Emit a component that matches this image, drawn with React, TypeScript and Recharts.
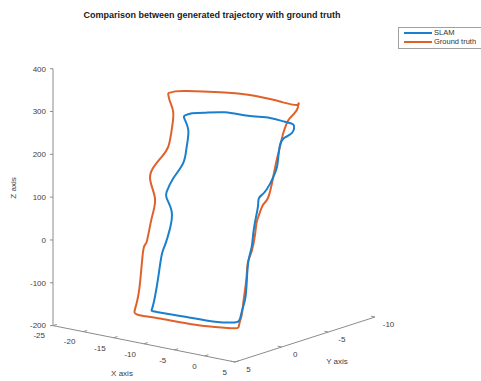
import React from 'react';
import { ScatterChart, Scatter, XAxis, YAxis, ReferenceLine } from 'recharts';

// trajectories as seen on screen: horizontal screen position vs Z value
const truthH = [168, 175, 187, 220, 248, 270, 282, 296.7, 298.5, 297, 290, 286.5, 283.3, 280, 276.7, 275, 272, 268, 263, 260, 256.7, 255, 251.7, 248, 246.7, 245, 243, 241.7, 239, 235, 215, 190, 158, 138.3, 134.5, 136.7, 140, 143.3, 146.7, 151.7, 155, 150, 155, 161.7, 168.3, 171.7, 173.3, 170, 168];
const truthZ = [343, 347, 348, 345, 339, 329, 322, 315, 319, 304, 285, 271, 250, 218, 187, 168, 133, 98, 82, 65, 42, 12, -26, -51, -82, -117, -152, -175, -199, -206, -203, -196, -183, -175, -167, -147, -101, -23, -4, 51, 97, 144, 175, 194, 218, 257, 297, 323, 343];

const slamH = [185, 192, 204, 225, 248, 270, 285, 293.5, 292, 284, 280, 278.3, 276.7, 273.3, 270, 264, 259, 258, 256, 253.3, 251.7, 248.3, 246.7, 245, 241.7, 239, 231.7, 215, 186.7, 156.7, 152, 155, 158.3, 161.7, 165, 170, 171.7, 166.7, 166.7, 173.3, 183.3, 186.7, 188.3, 184.3, 185];
const slamZ = [291, 296, 297, 298, 290, 285, 276, 269, 250, 238, 222, 194, 168, 147, 131, 110, 98, 79, 54, 16, -16, -51, -100, -140, -168, -189, -193, -191, -180, -168, -161, -132, -86, -35, -12, 27, 66, 97, 113, 144, 180, 218, 257, 284, 291];

const zTicks = [-200, -100, 0, 100, 200, 300, 400];
const xTickLabels = ['-25', '-20', '-15', '-10', '-5', '0', '5'];
const yTickLabels = ['5', '0', '-5', '-10'];

// where the 3D box edges land on screen (h, z)
const corner0 = { h: 53, z: -200 };
const corner1 = { h: 235, z: -285 };
const corner2 = { h: 375, z: -180 };

const axisColor = '#8c8c8c';
const textColor = '#404040';
const blue = '#1a7fcc';
const orange = '#e0622a';

const toPoints = (hs: number[], zs: number[]) => hs.map((h, i) => ({ h, z: zs[i] }));

const along = (from: { h: number; z: number }, to: { h: number; z: number }, labels: string[]) =>
  labels.map((label, i) => {
    const t = i / (labels.length - 1);
    return { h: from.h + (to.h - from.h) * t, z: from.z + (to.z - from.z) * t, label };
  });

const truth = toPoints(truthH, truthZ);
const slam = toPoints(slamH, slamZ);
const xTicks = along(corner0, corner1, xTickLabels);
const yTicks = along(corner1, corner2, yTickLabels);
const axisNames = [
  { h: 122, z: -310, label: 'X axis' },
  { h: 337, z: -282, label: 'Y axis' },
];

const NoDot = () => <g />;

const XTick = (props: any) => {
  const { cx, cy, payload } = props;
  return (
    <g>
      <line x1={cx} y1={cy} x2={cx + 3.8} y2={cy - 1.2} stroke={axisColor} />
      <text x={cx - 8} y={cy + 10} dy="0.35em" textAnchor="end" fontSize={8} fill={textColor}>
        {payload.label}
      </text>
    </g>
  );
};

const YTick = (props: any) => {
  const { cx, cy, payload } = props;
  return (
    <g>
      <line x1={cx} y1={cy} x2={cx - 3.9} y2={cy - 0.8} stroke={axisColor} />
      <text x={cx + 13.5} y={cy + 7} dy="0.35em" textAnchor="middle" fontSize={8} fill={textColor}>
        {payload.label}
      </text>
    </g>
  );
};

const AxisName = (props: any) => {
  const { cx, cy, payload } = props;
  return (
    <text x={cx} y={cy} dy="0.35em" textAnchor="middle" fontSize={8} fill={textColor}>
      {payload.label}
    </text>
  );
};

const App = () => {
  return (
    <div style={{ position: 'absolute', left: 0, top: 0, width: 481, height: 381, background: '#fff', fontFamily: '"Liberation Sans", Arial, sans-serif' }}>
      <div style={{ position: 'absolute', left: 212, top: 15, transform: 'translate(-50%, -50%)', fontSize: 9, fontWeight: 'bold', color: '#1a1a1a', whiteSpace: 'nowrap' }}>
        Comparison between generated trajectory with ground truth
      </div>

      <div style={{ position: 'absolute', left: 13, top: 188, transform: 'translate(-50%, -50%) rotate(-90deg)', fontSize: 8, color: textColor, whiteSpace: 'nowrap' }}>
        Z axis
      </div>

      <div style={{ position: 'absolute', left: 398, top: 27, width: 100, height: 22, border: '1px solid #a0a0a0', boxSizing: 'border-box', background: '#fff', fontSize: 7.5, color: '#333' }}>
        <div style={{ position: 'absolute', left: 5, top: 4, width: 28, height: 2, background: blue }} />
        <div style={{ position: 'absolute', left: 35, top: 0, lineHeight: '10px' }}>SLAM</div>
        <div style={{ position: 'absolute', left: 5, top: 13, width: 28, height: 2, background: orange }} />
        <div style={{ position: 'absolute', left: 35, top: 9, lineHeight: '10px' }}>Ground truth</div>
      </div>

      <ScatterChart width={481} height={381} margin={{ top: 43, right: 0, bottom: 4, left: 0 }} style={{ position: 'absolute', left: 0, top: 0 }}>
        <XAxis type="number" dataKey="h" domain={[53, 481]} hide />
        <YAxis
          type="number"
          dataKey="z"
          domain={[-320, 460]}
          ticks={zTicks}
          interval={0}
          axisLine={false}
          tickSize={3}
          tickMargin={4}
          width={53}
          tick={{ fontSize: 8, fill: textColor }}
          tickLine={{ stroke: axisColor }}
        />
        <ReferenceLine segment={[{ x: corner0.h, y: -200 }, { x: corner0.h, y: 400 }]} stroke={axisColor} ifOverflow="visible" />
        <ReferenceLine segment={[{ x: corner0.h, y: corner0.z }, { x: corner1.h, y: corner1.z }]} stroke={axisColor} ifOverflow="visible" />
        <ReferenceLine segment={[{ x: corner1.h, y: corner1.z }, { x: corner2.h, y: corner2.z }]} stroke={axisColor} ifOverflow="visible" />

        <Scatter name="Ground truth" data={truth} line={{ stroke: orange, strokeWidth: 2 }} lineJointType="natural" shape={NoDot} fill={orange} isAnimationActive={false} />
        <Scatter name="SLAM" data={slam} line={{ stroke: blue, strokeWidth: 2 }} lineJointType="natural" shape={NoDot} fill={blue} isAnimationActive={false} />
        <Scatter data={xTicks} shape={XTick} isAnimationActive={false} />
        <Scatter data={yTicks} shape={YTick} isAnimationActive={false} />
        <Scatter data={axisNames} shape={AxisName} isAnimationActive={false} />
      </ScatterChart>
    </div>
  );
};

export default App;
